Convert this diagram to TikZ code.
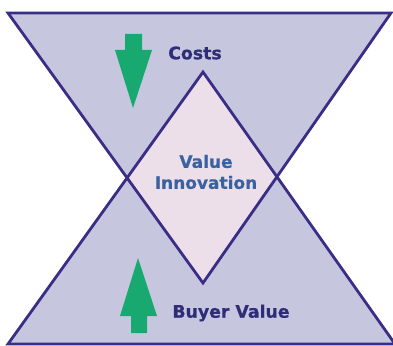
\documentclass[tikz,border=0pt]{standalone}
\usepackage{fontspec}
\setmainfont{DejaVu Sans}
\newfontfamily\heavyfont[FakeBold=0.6]{DejaVu Sans Bold}
\begin{document}
\begin{tikzpicture}[x=1pt,y=-1pt,
  tri/.style={fill=triFill},
  edge/.style={draw=edgeCol,line width=2.8pt,line join=miter},
  greenarrow/.style={fill=arrowGreen,draw=none},
  label/.style={font=\heavyfont\fontsize{17.3}{19}\selectfont,text=labelNavy,inner sep=0pt},
  centerlabel/.style={font=\heavyfont\fontsize{17}{21}\selectfont,text=labelBlue,inner sep=0pt,align=center}]
\definecolor{triFill}{HTML}{C6C7DF}
\definecolor{diaFill}{HTML}{ECDFEA}
\definecolor{edgeCol}{HTML}{3A2D85}
\definecolor{arrowGreen}{HTML}{17A96F}
\definecolor{labelNavy}{HTML}{2F2C78}
\definecolor{labelBlue}{HTML}{3A62A0}
\useasboundingbox (0,0) rectangle (393,345);
% top (inverted) triangle
\coordinate (tl) at (8,13);
\coordinate (tr) at (391,13);
\coordinate (tb) at (203,283);
% bottom triangle
\coordinate (bl) at (8,344);
\coordinate (br) at (395,344);
\coordinate (bt) at (203,72);
% crossings
\coordinate (cl) at (intersection of tl--tb and bl--bt);
\coordinate (cr) at (intersection of tr--tb and br--bt);
% fills
\fill[tri] (tl) -- (tr) -- (tb) -- cycle;
\fill[tri] (bl) -- (br) -- (bt) -- cycle;
\fill[diaFill] (bt) -- (cr) -- (tb) -- (cl) -- cycle;
% outlines
\draw[edge] (tl) -- (tr) -- (tb) -- cycle;
\draw[edge] (bl) -- (br) -- (bt) -- cycle;
% arrows
\fill[greenarrow] (125,34) -- (142,34) -- (142,50) -- (152,50) -- (133,108) -- (115,50) -- (125,50) -- cycle;
\fill[greenarrow] (131,333) -- (147,333) -- (147,316) -- (157,316) -- (138,258) -- (120,316) -- (131,316) -- cycle;
% labels
\node[label] (costs) at (195,53) {Costs};
\node[centerlabel] (vi) at (206,172) {Value\\Innovation};
\node[label] (buyer) at (231,313) {Buyer Value};
\end{tikzpicture}
\end{document}
